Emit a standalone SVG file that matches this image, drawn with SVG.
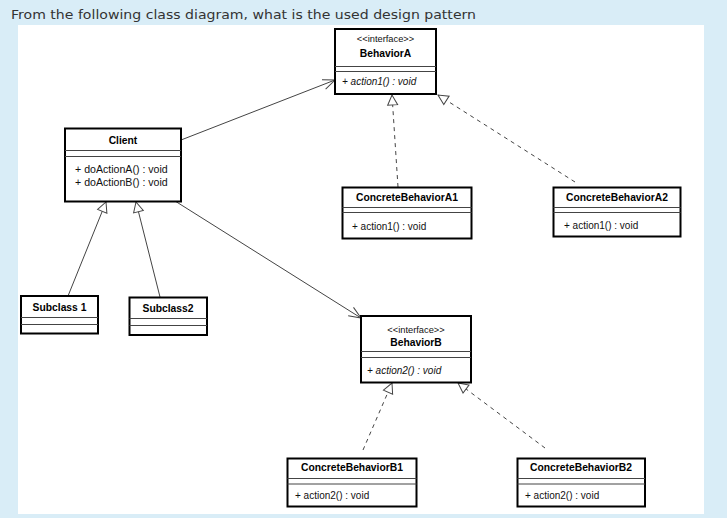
<svg xmlns="http://www.w3.org/2000/svg" width="727" height="518" viewBox="0 0 727 518">
<style>
.box{fill:#fff;stroke:#000;stroke-width:2}
.sep{stroke:#444;stroke-width:1}
.nm{font-family:"Liberation Sans",Arial,sans-serif;font-size:10.3px;font-weight:bold;fill:#000;text-anchor:middle}
.st{font-family:"Liberation Sans",Arial,sans-serif;font-size:9.3px;fill:#111;text-anchor:middle}
.op{font-family:"Liberation Sans",Arial,sans-serif;font-size:10px;fill:#111}
.op.big{font-size:10.6px}
.it{font-style:italic}
.assoc{stroke:#444;stroke-width:1;fill:none;marker-end:url(#open)}
.gen{stroke:#444;stroke-width:1;fill:none;marker-end:url(#tri)}
.real{stroke:#444;stroke-width:1;fill:none;stroke-dasharray:4,4;marker-end:url(#tri)}
</style>
<defs>
<marker id="open" markerUnits="userSpaceOnUse" markerWidth="14" markerHeight="12" refX="12" refY="5" orient="auto" overflow="visible">
<path d="M0,0 L12,5 L0,10" fill="none" stroke="#444" stroke-width="1"/>
</marker>
<marker id="tri" markerUnits="userSpaceOnUse" markerWidth="12" markerHeight="12" refX="10" refY="5" orient="auto" overflow="visible">
<path d="M0,0 L10,5 L0,10 Z" fill="#fff" stroke="#444" stroke-width="1"/>
</marker>
</defs>
<rect x="0" y="0" width="727" height="518" fill="#d9edf7"/>
<rect x="18" y="25" width="686" height="489" fill="#fff"/>
<text x="11" y="19" font-family="DejaVu Sans,Verdana,sans-serif" font-size="13" fill="#333" textLength="465" lengthAdjust="spacingAndGlyphs">From the following class diagram, what is the used design pattern</text>

<g id="connectors">
<line class="assoc" x1="181" y1="140" x2="335" y2="80"/>
<line class="assoc" x1="175" y1="201" x2="361" y2="318"/>
<line class="gen" x1="68" y1="296" x2="106" y2="202"/>
<line class="gen" x1="160" y1="297" x2="136" y2="202"/>
<line class="real" x1="398" y1="187" x2="392" y2="95"/>
<line class="real" x1="575" y1="182" x2="438" y2="95"/>
<line class="real" x1="363" y1="450" x2="392" y2="383"/>
<line class="real" x1="545" y1="448" x2="458" y2="383"/>
</g>

<g id="BehaviorA">
<rect class="box" x="335" y="29" width="101" height="65"/>
<line class="sep" x1="335" y1="66.5" x2="436" y2="66.5"/>
<line class="sep" x1="335" y1="71.5" x2="436" y2="71.5"/>
<text class="st" x="385.5" y="42">&lt;&lt;interface&gt;&gt;</text>
<text class="nm" x="385.5" y="57">BehaviorA</text>
<text class="op it" x="342" y="85">+ action1() : void</text>
</g>

<g id="Client">
<rect class="box" x="65" y="128.5" width="116" height="73"/>
<line class="sep" x1="65" y1="150.5" x2="181" y2="150.5"/>
<line class="sep" x1="65" y1="156.5" x2="181" y2="156.5"/>
<text class="nm" x="123" y="144">Client</text>
<text class="op big" x="75" y="172.5">+ doActionA() : void</text>
<text class="op big" x="75" y="186">+ doActionB() : void</text>
</g>

<g id="ConcreteBehaviorA1">
<rect class="box" x="342.5" y="187.5" width="129" height="51"/>
<line class="sep" x1="342.5" y1="207.5" x2="471.5" y2="207.5"/>
<line class="sep" x1="342.5" y1="212.5" x2="471.5" y2="212.5"/>
<text class="nm" x="407" y="201">ConcreteBehaviorA1</text>
<text class="op" x="352" y="229.5">+ action1() : void</text>
</g>

<g id="ConcreteBehaviorA2">
<rect class="box" x="553.5" y="187.5" width="127" height="49"/>
<line class="sep" x1="553.5" y1="207.5" x2="680.5" y2="207.5"/>
<line class="sep" x1="553.5" y1="212.5" x2="680.5" y2="212.5"/>
<text class="nm" x="617" y="201">ConcreteBehaviorA2</text>
<text class="op" x="564" y="229">+ action1() : void</text>
</g>

<g id="Subclass1">
<rect class="box" x="21" y="296" width="77" height="37.5"/>
<line class="sep" x1="21" y1="317.5" x2="98" y2="317.5"/>
<line class="sep" x1="21" y1="324.5" x2="98" y2="324.5"/>
<text class="nm" x="59.5" y="311">Subclass 1</text>
</g>

<g id="Subclass2">
<rect class="box" x="129.5" y="297.5" width="77.5" height="37.5"/>
<line class="sep" x1="129.5" y1="318.5" x2="207" y2="318.5"/>
<line class="sep" x1="129.5" y1="325.5" x2="207" y2="325.5"/>
<text class="nm" x="168" y="312">Subclass2</text>
</g>

<g id="BehaviorB">
<rect class="box" x="361" y="316" width="110" height="66.5"/>
<line class="sep" x1="361" y1="351.5" x2="471" y2="351.5"/>
<line class="sep" x1="361" y1="357.5" x2="471" y2="357.5"/>
<text class="st" x="416" y="332.5">&lt;&lt;interface&gt;&gt;</text>
<text class="nm" x="416" y="346">BehaviorB</text>
<text class="op it" x="367" y="374">+ action2() : void</text>
</g>

<g id="ConcreteBehaviorB1">
<rect class="box" x="287.5" y="458.5" width="129" height="48"/>
<line class="sep" x1="287.5" y1="478.5" x2="416.5" y2="478.5"/>
<line class="sep" x1="287.5" y1="484" x2="416.5" y2="484"/>
<text class="nm" x="352" y="471">ConcreteBehaviorB1</text>
<text class="op" x="295" y="498.5">+ action2() : void</text>
</g>

<g id="ConcreteBehaviorB2">
<rect class="box" x="517.5" y="458.5" width="127.5" height="48"/>
<line class="sep" x1="517.5" y1="478.5" x2="645" y2="478.5"/>
<line class="sep" x1="517.5" y1="484" x2="645" y2="484"/>
<text class="nm" x="581" y="471">ConcreteBehaviorB2</text>
<text class="op" x="525" y="498.5">+ action2() : void</text>
</g>
</svg>
